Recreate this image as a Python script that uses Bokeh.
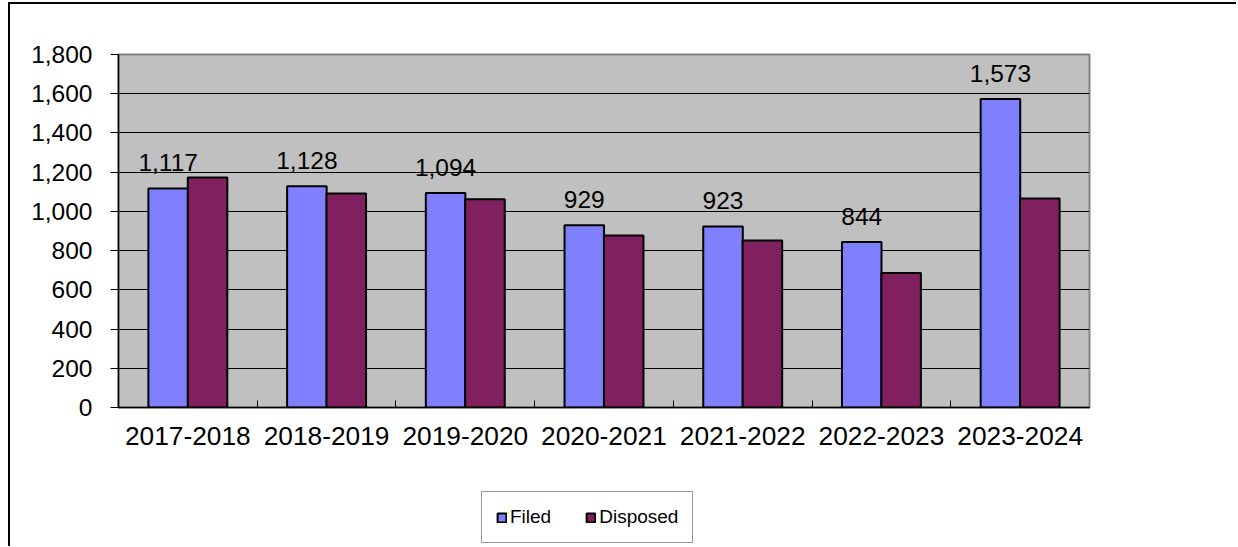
from bokeh.plotting import figure
from bokeh.layouts import column
from bokeh.models import (ColumnDataSource, LabelSet, FixedTicker, NumeralTickFormatter,
                          Range1d, Legend, LegendItem)
from bokeh.core.properties import value
from bokeh.embed import file_html
from bokeh.resources import INLINE

years = ["2017-2018", "2018-2019", "2019-2020", "2020-2021", "2021-2022", "2022-2023", "2023-2024"]
filed = [1117, 1128, 1094, 929, 923, 844, 1573]
disposed = [1173, 1091, 1062, 877, 852, 686, 1066]
y_ticks = [0, 200, 400, 600, 800, 1000, 1200, 1400, 1600, 1800]
series_names = ["Filed", "Disposed"]
series_colors = ["#8080FF", "#80205F"]

FONT = "Liberation Sans"
n = len(years)
centers = [i + 0.5 for i in range(n)]
bw = 0.285
off = 0.142
W = 1226

src = ColumnDataSource(dict(
    xf=[c - off for c in centers],
    xd=[c + off for c in centers],
    filed=filed,
    disposed=disposed,
    flab=[f"{v:,}" for v in filed],
))

p = figure(width=W, height=470,
           x_range=Range1d(0, n), y_range=Range1d(0, y_ticks[-1]),
           output_backend="svg", toolbar_location=None,
           min_border_left=108, min_border_right=W - 1079,
           min_border_top=50, min_border_bottom=67)

p.background_fill_color = "#C0C0C0"
p.border_fill_color = "white"
p.outline_line_color = "#808080"
p.outline_line_width = 2

p.xgrid.visible = False
p.ygrid.ticker = FixedTicker(ticks=y_ticks[1:-1])
p.ygrid.grid_line_color = "black"
p.ygrid.grid_line_width = 1

p.vbar(x="xf", top="filed", width=bw, source=src, fill_color=series_colors[0],
       line_color="black", line_width=2)
p.vbar(x="xd", top="disposed", width=bw, source=src, fill_color=series_colors[1],
       line_color="black", line_width=2)

labels = LabelSet(x="xf", y="filed", text="flab", source=src, y_offset=17,
                  text_align="center", text_baseline="alphabetic",
                  text_font_size="24.5px", text_font=value(FONT), text_color="black")
p.add_layout(labels)

xa = p.xaxis[0]
xa.ticker = FixedTicker(ticks=centers, minor_ticks=[float(i) for i in range(1, n)])
xa.major_label_overrides = {c: y for c, y in zip(centers, years)}
xa.major_tick_in = 0
xa.major_tick_out = 0
xa.minor_tick_in = 7
xa.minor_tick_out = 0
xa.minor_tick_line_color = "black"
xa.minor_tick_line_width = 1
xa.axis_line_color = "black"
xa.axis_line_width = 1.5
xa.major_label_text_font = FONT
xa.major_label_text_font_size = "26.3px"
xa.major_label_text_color = "black"
xa.major_label_standoff = 19

ya = p.yaxis[0]
ya.ticker = FixedTicker(ticks=y_ticks)
ya.formatter = NumeralTickFormatter(format="0,0")
ya.major_tick_in = 0
ya.major_tick_out = 8
ya.major_tick_line_color = "black"
ya.minor_tick_line_color = None
ya.axis_line_color = "black"
ya.axis_line_width = 1.5
ya.major_label_text_font = FONT
ya.major_label_text_font_size = "24.5px"
ya.major_label_text_color = "black"
ya.major_label_standoff = 18

# legend strip below the chart; its swatch renderers hold one empty (NaN) row,
# so only the legend itself shows
p2 = figure(width=W, height=72, x_range=Range1d(0, 1), y_range=Range1d(0, 1),
            output_backend="svg", toolbar_location=None,
            x_axis_location=None, y_axis_location=None,
            min_border_left=0, min_border_right=0, min_border_top=0, min_border_bottom=0)
p2.xgrid.visible = False
p2.ygrid.visible = False
p2.outline_line_color = None
p2.background_fill_color = "white"
p2.border_fill_color = "white"

nan = float("nan")
swatch_src = ColumnDataSource(dict(x=[nan], top=[nan], bottom=[nan]))
items = []
for name, col in zip(series_names, series_colors):
    r = p2.vbar(x="x", top="top", bottom="bottom", width=0.01, source=swatch_src,
                fill_color=col, line_color="black", line_width=2)
    items.append(LegendItem(label=name, renderers=[r]))

lg = Legend(items=items, orientation="horizontal", location=(363, 3))
lg.label_text_font = FONT
lg.label_text_font_size = "19px"
lg.label_text_color = "black"
lg.glyph_width = 11
lg.glyph_height = 11
lg.label_standoff = 3
lg.spacing = 34
lg.padding = 14
lg.margin = 0
lg.border_line_color = "#333333"
lg.border_line_width = 1
lg.background_fill_color = "white"
lg.background_fill_alpha = 1
p2.add_layout(lg)

layout = column(p, p2, spacing=0)
layout.styles = {"margin-left": "8px", "margin-top": "2px",
                 "border-left": "2px solid black", "border-top": "2px solid black"}

open("out.html", "w").write(file_html(layout, INLINE))
